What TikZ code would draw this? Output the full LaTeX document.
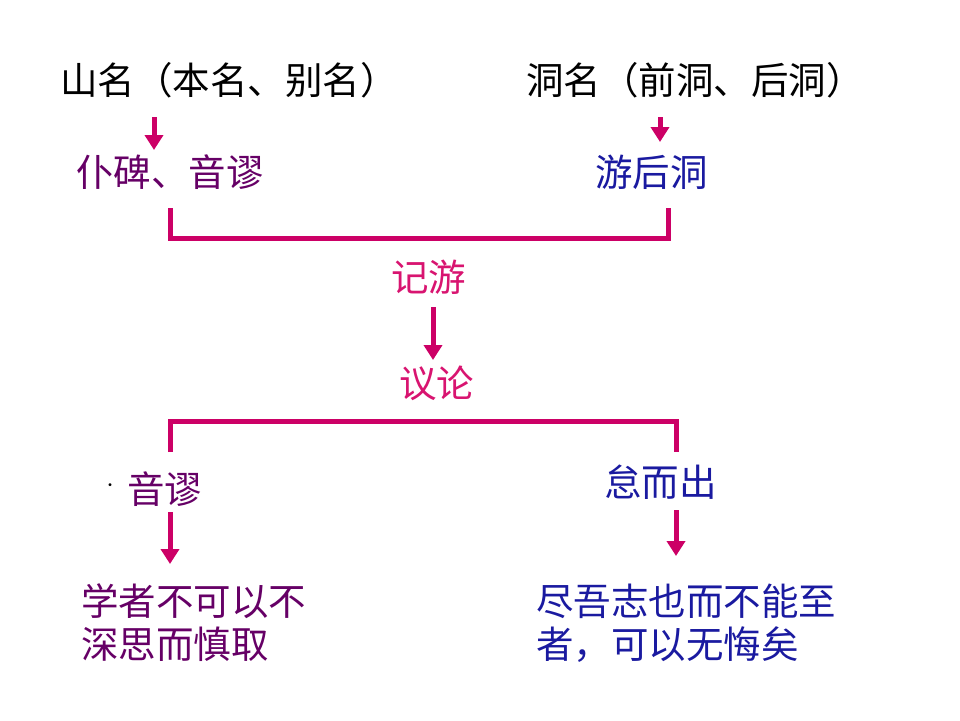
\documentclass[tikz,border=0pt]{standalone}
\usepackage{fontspec}
\setmainfont{Noto Sans CJK SC}
\usetikzlibrary{arrows.meta}
\definecolor{lnc}{HTML}{CC0066}
\definecolor{purp}{HTML}{660066}
\definecolor{blu}{HTML}{1A1AA0}
\definecolor{pnk}{HTML}{D81470}
\tikzset{
  txt/.style={anchor=west,inner sep=0pt,font=\fontsize{37.5}{43}\selectfont},
  blk/.style={txt,text=black},
  pur/.style={txt,text=purp},
  bl/.style={txt,text=blu},
  pk/.style={txt,text=pnk},
  arr/.style={draw=lnc,line width=5pt,-{Triangle[width=18pt,length=15pt]}},
  brk/.style={draw=lnc,line width=5pt}
}
\begin{document}
\begin{tikzpicture}[x=1pt,y=-1pt]
\useasboundingbox (0,0) rectangle (960,720);
\node[blk] (t1) at (60,80) {山名（本名、别名）};
\node[blk] (t2) at (526,80) {洞名（前洞、后洞）};
\node[pur] (m1) at (76,172) {仆碑、音谬};
\node[bl] (m2) at (595,172) {游后洞};
\node[pk] (j) at (391,277) {记游};
\node[pk] (y) at (399,383) {议论};
\node[txt,text=black,font=\fontsize{14}{16}\selectfont] (dot) at (103,487) {·};
\node[pur] (b1) at (127,489) {音谬};
\node[bl] (b2) at (604,482) {怠而出};
\node[pur,align=left] (c1) at (81,623) {学者不可以不\\深思而慎取};
\node[bl,align=left] (c2) at (536,623) {尽吾志也而不能至\\者，可以无悔矣};
% arrows
\coordinate (a1s) at (154,117); \coordinate (a1e) at (154,150);
\coordinate (a2s) at (660,117); \coordinate (a2e) at (660,142);
\coordinate (a3s) at (433,307); \coordinate (a3e) at (433,360);
\coordinate (a4s) at (170,512); \coordinate (a4e) at (170,564);
\coordinate (a5s) at (676,510); \coordinate (a5e) at (676,556);
\draw[arr] (a1s) -- (a1e);
\draw[arr] (a2s) -- (a2e);
\draw[arr] (a3s) -- (a3e);
\draw[arr] (a4s) -- (a4e);
\draw[arr] (a5s) -- (a5e);
% brackets
\coordinate (k1a) at (170,208); \coordinate (k1b) at (419,238); \coordinate (k1c) at (668,208);
\draw[brk] (k1a) |- (k1b) -| (k1c);
\coordinate (k2a) at (170,452); \coordinate (k2b) at (423,421); \coordinate (k2c) at (676,452);
\draw[brk] (k2a) |- (k2b) -| (k2c);
\end{tikzpicture}
\end{document}
